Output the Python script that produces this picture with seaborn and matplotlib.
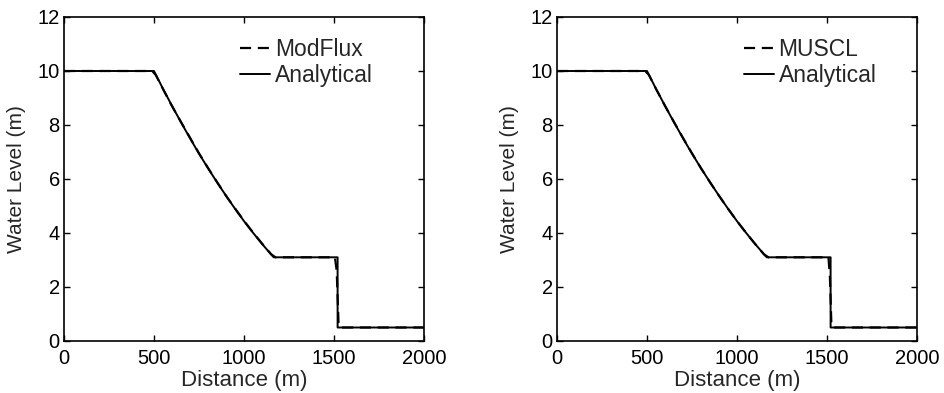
import matplotlib
matplotlib.use("Agg")
import matplotlib.pyplot as plt
import seaborn as sns
import pandas as pd

sns.set_style("ticks")
plt.rcParams['font.family'] = ['Liberation Sans', 'DejaVu Sans']

# Analytical dam-break profile
x_analytical = [0, 500, 550, 600, 650, 700, 750, 800, 850, 900, 950, 1000,
                1050, 1100, 1150, 1165, 1520, 1520, 2000]
h_analytical = [10.0, 10.0, 9.34, 8.71, 8.10, 7.51, 6.94, 6.40, 5.88, 5.38, 4.90,
                4.44, 4.01, 3.60, 3.21, 3.10, 3.10, 0.50, 0.50]

# ModFlux numerical result
x_modflux = [0, 490, 510, 550, 600, 650, 700, 750, 800, 850, 900, 950, 1000,
             1050, 1100, 1150, 1175, 1505, 1515, 1525, 1535, 2000]
h_modflux = [10.0, 10.0, 9.85, 9.33, 8.70, 8.11, 7.53, 6.95, 6.41, 5.89, 5.38, 4.91,
             4.45, 4.02, 3.61, 3.22, 3.10, 3.10, 2.6, 0.7, 0.50, 0.50]

# MUSCL numerical result
x_muscl = [0, 490, 510, 550, 600, 650, 700, 750, 800, 850, 900, 950, 1000,
           1050, 1100, 1150, 1175, 1508, 1516, 1524, 1532, 2000]
h_muscl = [10.0, 10.0, 9.86, 9.34, 8.71, 8.11, 7.52, 6.95, 6.40, 5.88, 5.38, 4.90,
           4.44, 4.01, 3.60, 3.21, 3.10, 3.10, 2.4, 0.7, 0.50, 0.50]

x_ticks = [0, 500, 1000, 1500, 2000]
y_ticks = [0, 2, 4, 6, 8, 10, 12]

fig = plt.figure(figsize=(9.44, 3.93), dpi=100)
ax1 = fig.add_axes([64/944, 52/393, 360/944, 324/393])
ax2 = fig.add_axes([557/944, 52/393, 360/944, 324/393])

panels = [
    (ax1, "ModFlux", x_modflux, h_modflux, 0.49),
    (ax2, "MUSCL", x_muscl, h_muscl, 0.52),
]

fs_tick = 14.5
fs_label = 16
fs_leg = 16.5
for ax, name, xn, hn, lx in panels:
    df_a = pd.DataFrame({"x": x_analytical, "h": h_analytical})
    df_n = pd.DataFrame({"x": xn, "h": hn})
    sns.lineplot(data=df_n, x="x", y="h", ax=ax, color="black", lw=1.6,
                 linestyle=(0, (5, 3)), sort=False, estimator=None, label=name)
    sns.lineplot(data=df_a, x="x", y="h", ax=ax, color="black", lw=1.4,
                 sort=False, estimator=None, label="Analytical")
    ax.set_xlim(0, 2000)
    ax.set_ylim(0, 12)
    ax.set_xticks(x_ticks)
    ax.set_yticks(y_ticks)
    ax.tick_params(direction="in", top=True, right=True, labelsize=fs_tick,
                   length=4, width=1, colors="black")
    ax.tick_params(axis="x", pad=6)
    ax.tick_params(axis="y", pad=3)
    for s in ax.spines.values():
        s.set_visible(True)
        s.set_linewidth(1.2)
        s.set_color("black")
    ax.set_xlabel("Distance (m)", fontsize=fs_label, labelpad=1)
    ax.set_ylabel("Water Level (m)", fontsize=15, labelpad=8)
    ax.legend(loc="upper left", bbox_to_anchor=(lx, 0.935), frameon=False,
              fontsize=fs_leg, handlelength=1.3, handletextpad=0.2,
              labelspacing=0.12, borderaxespad=0, borderpad=0)

fig.savefig("out.png", dpi=100)
